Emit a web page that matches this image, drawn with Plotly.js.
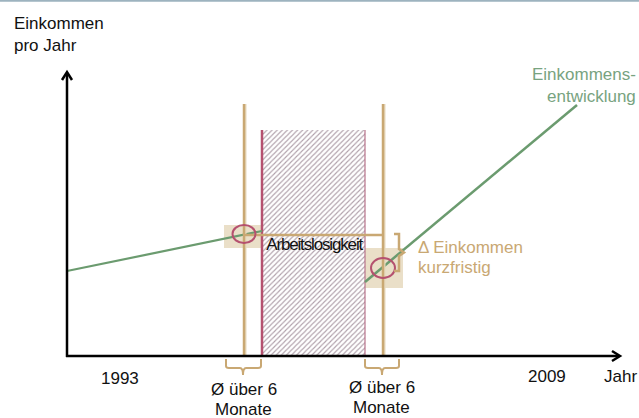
<!DOCTYPE html>
<html><head><meta charset="utf-8">
<script src="https://cdn.plot.ly/plotly-3.0.1.min.js"></script>
<style>html,body{margin:0;padding:0;background:#fff}#chart{width:639px;height:418px}</style>
</head><body><div id="chart"></div><script>
// Schematic values (x = time position, y = income scale, drawn downward on screen)
const einkommenVorX = [67, 262];
const einkommenVorY = [271, 231];
const einkommenNachX = [365, 577];
const einkommenNachY = [282, 105];
const arbeitslosX = [262, 365];
const arbeitslosY = [130, 356];
const messpunkteX = [244, 383];
const messpunkteY = [234, 268];
const jahrLabels = ['1993', '2009'];
const jahrPos = [120, 547];

const TAN = '#c9a873', PINK = '#b5516f', GREEN = '#6b9b6f', GREENTXT = '#78a37f';
const FONT = 'Liberation Sans, Arial, sans-serif';
const ox = 67, oy = 356, xEnd = 620, yTop = 72;

const traces = [
  { x: [arbeitslosX[0], arbeitslosX[1], arbeitslosX[1], arbeitslosX[0], arbeitslosX[0]],
    y: [arbeitslosY[0], arbeitslosY[0], arbeitslosY[1], arbeitslosY[1], arbeitslosY[0]],
    mode: 'lines', fill: 'toself', line: {width: 0, color: 'rgba(0,0,0,0)'},
    fillcolor: 'white',
    fillpattern: {shape: '/', fgcolor: '#b0a0aa', bgcolor: 'white', size: 3.6, solidity: 0.3},
    hoverinfo: 'skip' },
  { x: [arbeitslosX[0], arbeitslosX[0]], y: [arbeitslosY[0], arbeitslosY[1]], mode: 'lines',
    line: {color: PINK, width: 2.5}, hoverinfo: 'skip' },
  { x: [arbeitslosX[1], arbeitslosX[1]], y: [arbeitslosY[0], arbeitslosY[1]], mode: 'lines',
    line: {color: '#b8728a', width: 1.2}, hoverinfo: 'skip' },
  { x: einkommenVorX, y: einkommenVorY, mode: 'lines', line: {color: GREEN, width: 2.2}, hoverinfo: 'skip' },
  { x: einkommenNachX, y: einkommenNachY, mode: 'lines', line: {color: GREEN, width: 2.5}, hoverinfo: 'skip' }
];

const shapes = [
  {type: 'line', xref: 'paper', yref: 'paper', x0: 0, x1: 1, y0: 0.998, y1: 0.998, line: {color: '#9db3bf', width: 2}},
  {type: 'rect', layer: 'below', x0: 224, x1: 262, y0: 225, y1: 248, fillcolor: '#eadfc8', line: {width: 0}},
  {type: 'rect', layer: 'below', x0: 365, x1: 403, y0: 248, y1: 288, fillcolor: '#eadfc8', line: {width: 0}},
  {type: 'line', x0: messpunkteX[0] + 1.5, x1: messpunkteX[0] + 1.5, y0: 104, y1: oy, line: {color: '#e6d8bd', width: 2}},
  {type: 'line', x0: messpunkteX[1] + 1.5, x1: messpunkteX[1] + 1.5, y0: 104, y1: oy, line: {color: '#e6d8bd', width: 2}},
  {type: 'line', x0: messpunkteX[0], x1: messpunkteX[0], y0: 104, y1: oy, line: {color: TAN, width: 2.5}},
  {type: 'line', x0: messpunkteX[1], x1: messpunkteX[1], y0: 104, y1: oy, line: {color: TAN, width: 2.5}},
  {type: 'line', x0: messpunkteX[0], x1: messpunkteX[1], y0: 235, y1: 235, line: {color: TAN, width: 2.5}},
  {type: 'circle', x0: messpunkteX[0] - 11.5, x1: messpunkteX[0] + 11.5, y0: messpunkteY[0] - 9, y1: messpunkteY[0] + 9, line: {color: PINK, width: 2}},
  {type: 'circle', x0: messpunkteX[1] - 12, x1: messpunkteX[1] + 12, y0: messpunkteY[1] - 10, y1: messpunkteY[1] + 10, line: {color: PINK, width: 2}},
  {type: 'path', path: 'M394,234 L399,234 L399,249 L404,252.5 L399,256 L399,271 L394,271', line: {color: TAN, width: 2.5}},
  {type: 'path', path: 'M226,359 L226,366 Q226,368 229,368 L240,368 Q243,368 243,375 Q243,368 246,368 L258,368 Q261,368 261,366 L261,359', line: {color: TAN, width: 2}},
  {type: 'path', path: 'M365,359 L365,366 Q365,368 368,368 L379,368 Q382,368 382,375 Q382,368 385,368 L396,368 Q399,368 399,366 L399,359', line: {color: TAN, width: 2}},
  {type: 'line', x0: ox, x1: ox, y0: oy + 1, y1: yTop + 1, line: {color: '#000', width: 2.5}},
  {type: 'line', x0: ox - 1, x1: xEnd - 1, y0: oy, y1: oy, line: {color: '#000', width: 2.5}},
  {type: 'path', path: `M${ox-5},${yTop+8} L${ox},${yTop} L${ox+5},${yTop+8}`, line: {color: '#000', width: 2.5}},
  {type: 'path', path: `M${xEnd-8},${oy-5} L${xEnd},${oy} L${xEnd-8},${oy+5}`, line: {color: '#000', width: 2.5}}
];

function txt(text, x, y, xanchor, color, size) {
  return {text: text, x: x, y: y, xanchor: xanchor, yanchor: 'middle', showarrow: false,
          font: {color: color || '#111', size: size || 17, family: FONT}};
}

const annotations = [
  txt('Einkommen', 12, 23, 'left'),
  txt('pro Jahr', 12, 45, 'left'),
  txt(jahrLabels[0], jahrPos[0], 378, 'center'),
  txt(jahrLabels[1], jahrPos[1], 376, 'center'),
  txt('Jahr', 602, 376, 'left'),
  txt('Ø über 6', 243.5, 389, 'center'),
  txt('Monate', 243.5, 409, 'center'),
  txt('Ø über 6', 382, 387, 'center'),
  txt('Monate', 381.5, 407, 'center'),
  txt('Arbeitslosigkeit', 314.5, 244, 'center', '#111', 17),
  txt('Δ Einkommen', 416, 247, 'left', TAN),
  txt('kurzfristig', 416, 267, 'left', TAN),
  txt('Einkommens-', 638, 74, 'right', GREENTXT),
  txt('entwicklung', 638, 96, 'right', GREENTXT)
];

const layout = {
  width: 639, height: 418, margin: {l: 0, r: 0, t: 0, b: 0},
  paper_bgcolor: '#fff', plot_bgcolor: '#fff', showlegend: false,
  xaxis: {range: [0, 639], visible: false, fixedrange: true},
  yaxis: {range: [418, 0], visible: false, fixedrange: true},
  shapes: shapes, annotations: annotations
};

Plotly.newPlot('chart', traces, layout, {staticPlot: true, displayModeBar: false}).then(function () {
  document.querySelectorAll('#chart .annotation-text').forEach(function (el) {
    if (el.textContent === 'Arbeitslosigkeit') el.style.letterSpacing = '-1.15px';
  });
});
</script></body></html>
